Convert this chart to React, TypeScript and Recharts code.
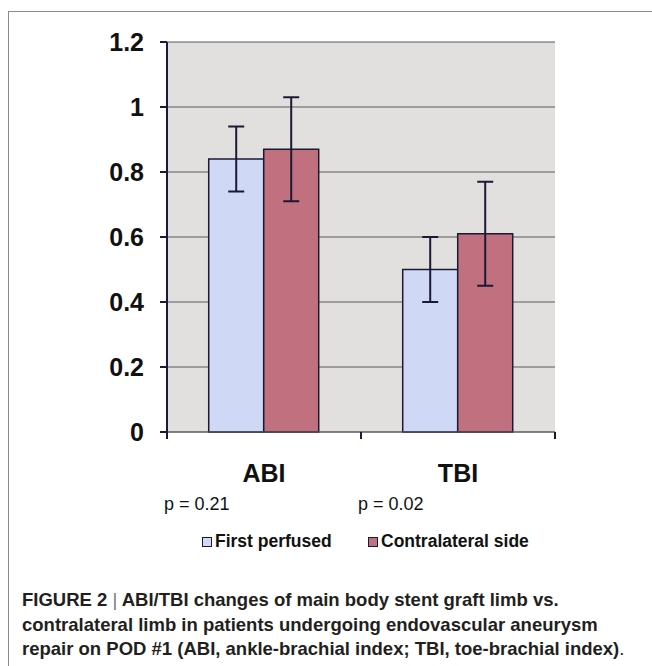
import React from 'react';
import { BarChart, Bar, XAxis, YAxis, CartesianGrid, ErrorBar } from 'recharts';

const categories = ['ABI', 'TBI'];
const firstPerfused = [0.84, 0.5];
const firstPerfusedErr = [0.1, 0.1];
const contralateral = [0.87, 0.61];
const contralateralErr = [0.16, 0.16];
const pValues = ['p = 0.21', 'p = 0.02'];
const yTicks = [0, 0.2, 0.4, 0.6, 0.8, 1, 1.2];
const seriesNames = ['First perfused', 'Contralateral side'];
const captionLabel = 'FIGURE 2';
const captionLines = [
  'ABI/TBI changes of main body stent graft limb vs.',
  'contralateral limb in patients undergoing endovascular aneurysm',
  'repair on POD #1 (ABI, ankle-brachial index; TBI, toe-brachial index)',
];

const data = categories.map((c, i) => ({
  name: c,
  first: firstPerfused[i],
  firstErr: firstPerfusedErr[i],
  contra: contralateral[i],
  contraErr: contralateralErr[i],
  p: pValues[i],
}));

const CHART_W = 652;
const CHART_H = 520;
const M_LEFT = 107;
const Y_W = 60;
const M_RIGHT = 97;
const M_TOP = 42;
const PLOT_BOTTOM = 432;
const X_H = 84;
const PLOT_W = CHART_W - M_LEFT - Y_W - M_RIGHT;
const BAND = PLOT_W / categories.length;

const BLUE = '#cfd8f4';
const RED = '#c1707f';
const DARK = '#1b1a36';
const FONT = '"Liberation Sans", Arial, sans-serif';

const XTick = (props: any) => {
  const { x, payload, index } = props;
  const y = PLOT_BOTTOM;
  const p = data[index] ? data[index].p : '';
  const marks: number[] = [];
  if (index === 0) marks.push(x - BAND / 2);
  marks.push(x + BAND / 2);
  return (
    <g>
      {marks.map((mx, i) => (
        <line key={i} x1={mx} x2={mx} y1={y} y2={y + 7} stroke={DARK} strokeWidth={2} />
      ))}
      <text x={x} y={y + 50} textAnchor="middle" fontFamily={FONT} fontWeight="bold" fontSize={25} fill="#111">
        {payload.value}
      </text>
      <text x={x - 100} y={y + 78} textAnchor="start" fontFamily={FONT} fontSize={18} fill="#111">
        {p}
      </text>
    </g>
  );
};

export default function App() {
  return (
    <div style={{ position: 'absolute', left: 0, top: 0, width: 652, height: 666, background: '#fff', overflow: 'hidden' }}>
      <div style={{ position: 'absolute', left: 8, top: 11, width: 700, height: 700, borderLeft: '1.5px solid #8a8a8a', borderTop: '1.5px solid #8a8a8a' }} />
      <div style={{ position: 'absolute', left: 0, top: 0 }}>
        <BarChart
          width={CHART_W}
          height={CHART_H}
          data={data}
          margin={{ top: M_TOP, right: M_RIGHT, left: M_LEFT, bottom: CHART_H - PLOT_BOTTOM - X_H }}
          barCategoryGap="21.5%"
          barGap={0}
        >
          <CartesianGrid vertical={false} stroke="#5a5a5a" strokeWidth={1} fill="#e2e0de" />
          <XAxis
            dataKey="name"
            height={X_H}
            axisLine={{ stroke: '#5a5a5a', strokeWidth: 1 }}
            tickLine={false}
            tick={<XTick />}
            interval={0}
          />
          <YAxis
            width={Y_W}
            domain={[0, 1.2]}
            ticks={yTicks}
            interval={0}
            axisLine={{ stroke: DARK, strokeWidth: 2 }}
            tickLine={{ stroke: DARK, strokeWidth: 2 }}
            tickSize={7}
            tickMargin={16}
            tick={{ fontFamily: FONT, fontWeight: 'bold', fontSize: 25, fill: '#111' }}
          />
          <Bar dataKey="first" name={seriesNames[0]} fill={BLUE} stroke={DARK} strokeWidth={1.5} isAnimationActive={false}>
            <ErrorBar dataKey="firstErr" width={8} stroke={DARK} strokeWidth={2} direction="y" />
          </Bar>
          <Bar dataKey="contra" name={seriesNames[1]} fill={RED} stroke={DARK} strokeWidth={1.5} isAnimationActive={false}>
            <ErrorBar dataKey="contraErr" width={8} stroke={DARK} strokeWidth={2} direction="y" />
          </Bar>
        </BarChart>
      </div>
      <div style={{ position: 'absolute', top: 531, left: 0, width: 652, fontFamily: FONT, fontWeight: 'bold', fontSize: 17.5, color: '#111' }}>
        {[{ name: seriesNames[0], color: BLUE, left: 202 }, { name: seriesNames[1], color: RED, left: 368 }].map((s) => (
          <div key={s.name} style={{ position: 'absolute', left: s.left, top: 0, display: 'flex', alignItems: 'center', whiteSpace: 'nowrap' }}>
            <span style={{ display: 'inline-block', width: 8, height: 8, background: s.color, border: `1.5px solid ${DARK}`, marginRight: 3 }} />
            <span>{s.name}</span>
          </div>
        ))}
      </div>
      <div style={{ position: 'absolute', top: 588, left: 22, fontFamily: FONT, fontWeight: 'bold', fontSize: 18.5, lineHeight: '24.5px', color: '#231f20', whiteSpace: 'nowrap' }}>
        <div>
          {captionLabel} <span style={{ fontWeight: 'normal', color: '#777' }}>|</span> {captionLines[0]}
        </div>
        <div>{captionLines[1]}</div>
        <div>
          {captionLines[2]}
          <span style={{ fontWeight: 'normal' }}>.</span>
        </div>
      </div>
    </div>
  );
}
